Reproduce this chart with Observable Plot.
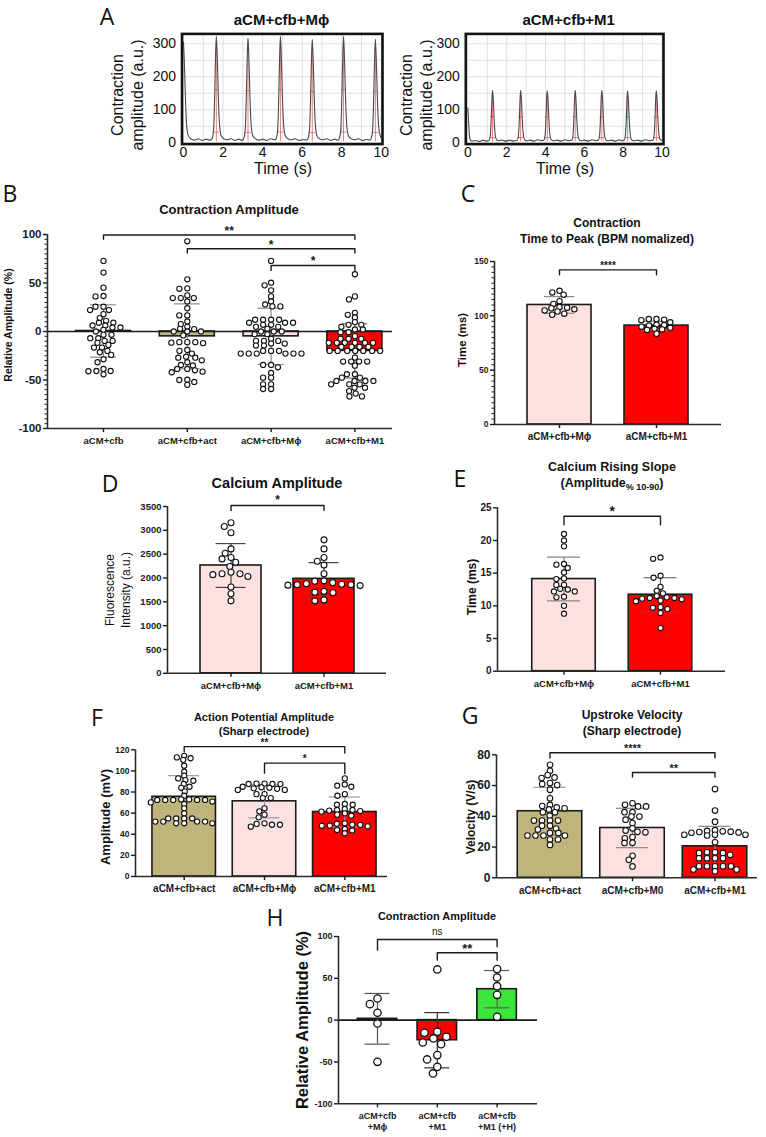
<!DOCTYPE html>
<html>
<head>
<meta charset="utf-8">
<script src="https://cdn.jsdelivr.net/npm/d3@7"></script>
<script src="https://cdn.jsdelivr.net/npm/@observablehq/plot@0.6"></script>
<style>
  html, body { margin: 0; padding: 0; background: #fff; }
  #fig { position: relative; width: 766px; height: 1137px; overflow: hidden; background: #fff;
         font-family: "Liberation Sans", Arial, Helvetica, sans-serif; color: #111; }
  #fig sub { font-size: 0.72em; vertical-align: -0.25em; }
</style>
</head>
<body>
<div id="fig"></div>
<script>
// ---------- Panel A: contraction traces (time in s, amplitude in a.u.) ----------
const traceMphiT = [0, 0.04, 0.09, 0.15, 0.23, 0.35, 0.55, 0.75, 0.95, 1.15, 1.32,
  1.44, 1.52, 1.58, 1.62, 1.66, 1.71, 1.76, 1.82, 1.90, 2.02, 2.2, 2.4, 2.6, 2.8, 2.95,
  3.04, 3.12, 3.18, 3.22, 3.26, 3.31, 3.36, 3.42, 3.50, 3.62, 3.8, 4.0, 4.2, 4.4, 4.6,
  4.68, 4.76, 4.82, 4.86, 4.90, 4.95, 5.00, 5.06, 5.14, 5.26, 5.45, 5.65, 5.85, 6.05, 6.22,
  6.29, 6.37, 6.43, 6.47, 6.51, 6.56, 6.61, 6.67, 6.75, 6.87, 7.05, 7.25, 7.45, 7.65, 7.82,
  7.87, 7.95, 8.01, 8.05, 8.09, 8.14, 8.19, 8.25, 8.33, 8.45, 8.65, 8.85, 9.05, 9.25, 9.42,
  9.48, 9.56, 9.62, 9.66, 9.70, 9.75, 9.80, 9.86, 9.94, 10.0];
const traceMphiA = [305, 250, 150, 60, 24, 13, 8, 12, 7, 11, 8,
  12, 40, 150, 262, 322, 252, 142, 56, 22, 13, 9, 12, 7, 11, 8,
  12, 40, 148, 256, 316, 246, 138, 54, 22, 13, 8, 11, 7, 12, 9,
  12, 40, 150, 262, 322, 252, 142, 56, 22, 13, 9, 12, 7, 10, 8,
  12, 40, 146, 254, 312, 244, 136, 52, 21, 12, 9, 12, 7, 11, 8,
  12, 40, 150, 262, 322, 252, 142, 56, 22, 13, 9, 12, 7, 10, 8,
  12, 40, 146, 254, 313, 245, 137, 53, 22, 15];
const peakMphiT = [1.66, 3.26, 4.90, 6.51, 8.09, 9.70];
const peakMphiA = [322, 316, 322, 312, 322, 313];

const traceM1T = [0, 0.03, 0.07, 0.12, 0.2, 0.4, 0.6, 0.8, 0.95,
  1.09, 1.16, 1.21, 1.24, 1.27, 1.31, 1.35, 1.40, 1.47, 1.57, 1.75, 1.95, 2.15, 2.35, 2.50,
  2.54, 2.61, 2.66, 2.69, 2.72, 2.76, 2.80, 2.85, 2.92, 3.02, 3.2, 3.4, 3.6, 3.8, 3.88,
  3.91, 3.98, 4.03, 4.06, 4.09, 4.13, 4.17, 4.22, 4.29, 4.39, 4.6, 4.8, 5.0, 5.2, 5.33,
  5.35, 5.42, 5.47, 5.50, 5.53, 5.57, 5.61, 5.66, 5.73, 5.83, 6.0, 6.2, 6.4, 6.6, 6.70,
  6.72, 6.79, 6.84, 6.87, 6.90, 6.94, 6.98, 7.03, 7.10, 7.20, 7.4, 7.6, 7.8, 7.95, 8.03,
  8.05, 8.12, 8.17, 8.20, 8.23, 8.27, 8.31, 8.36, 8.43, 8.53, 8.75, 8.95, 9.15, 9.35, 9.50,
  9.53, 9.60, 9.65, 9.68, 9.71, 9.75, 9.79, 9.84, 9.91, 10.0];
const traceM1A = [105, 70, 30, 10, 5, 7, 4, 8, 5,
  7, 25, 85, 135, 158, 130, 75, 28, 10, 6, 8, 5, 8, 5, 7,
  7, 25, 85, 135, 158, 130, 75, 28, 10, 6, 8, 5, 9, 6, 8,
  7, 25, 85, 135, 157, 130, 75, 28, 10, 6, 8, 5, 9, 6, 8,
  7, 25, 85, 135, 158, 130, 75, 28, 10, 6, 8, 5, 9, 6, 8,
  7, 25, 85, 135, 158, 130, 75, 28, 10, 6, 8, 5, 9, 6, 8,
  7, 25, 85, 135, 157, 130, 75, 28, 10, 6, 8, 5, 9, 6, 8,
  7, 25, 85, 135, 157, 130, 75, 28, 10, 7];
const peakM1T = [1.27, 2.72, 4.09, 5.53, 6.90, 8.23, 9.71];
const peakM1A = [158, 158, 157, 158, 158, 157, 157];

const traceTicksX = [0, 2, 4, 6, 8, 10];
const traceTicksY = [0, 100, 200, 300];

// ---------- Panel B: contraction amplitude (%) ----------
const catsB = ["aCM+cfb", "aCM+cfb+act", "aCM+cfb+Mϕ", "aCM+cfb+M1"];
const cfbB = [72.8, 60.7, 45.2, 36.6, 36.2, 25.5, 25.5, 22.1, 22.1, 17.9, 13.8, 11, 9, 9, 6.2, 6.2, 4.1, 4.1, 1.7, 0,
  -3.4, -3.4, -6.9, -6.9, -9.7, -9.7, -11.7, -13.8, -16.6, -16.6, -20, -21.4, -24.1, -28.6, -31.7, -38.6, -40.7, -40.7, -41, -44.1];
const actB = [93, 53.8, 44.5, 44, 37.2, 34.5, 34.5, 34.5, 31, 24, 16.6, 16.6, 10.3, 7.6, 4.8, 2.8, 2.4, 0, 0, 0,
  -4, -11, -11, -11, -11.5, -12, -19, -20, -22.8, -26, -27, -27, -29.7, -31.7, -34.5, -35, -38.6, -38.6, -40, -41.4,
  -42, -49.7, -50, -52, -55];
const mphiB = [72.8, 50.3, 47.6, 42.4, 36.2, 31, 27.9, 25.9, 25.9, 12.1, 12.1, 12.1, 12.1, 9, 9, 9, 6.9, 6.9, 4.8, 4.8,
  2.8, 0, 0, 0, -2.8, -2.8, -7.6, -9.7, -9.7, -9.7, -12.4, -12.4, -14.5, -14.5, -20, -20, -20, -22.8, -22.8, -22.8,
  -22.8, -22.8, -22.8, -34.5, -34.5, -36.9, -42.8, -47.6, -47.6, -54.5, -54.5, -59.3, -59.3];
const m1B = [59, 36.2, 33.1, 19.3, 17.2, 14.5, 9.7, 6.9, 6.9, 4.8, 2.1, 2.1, -0.7, -0.7, -4.8, -7.6, -7.6, -7.6,
  -11.7, -11.7, -11.7, -11.7, -11.7, -11.7, -15.9, -15.9, -15.9, -15.9, -20, -20, -20, -20, -20, -20, -20,
  -26.9, -31, -31, -31, -31, -35.2, -44, -44, -47.6, -47.6, -51, -51, -51, -51, -54.5, -54.5, -54.5, -58, -58,
  -61.4, -64, -66.9, -66.9];
const meanB = [0.5, -5, -5, -20];
const sdB = [27, 33.5, 29, 28];
const sigB = [
  {a: 0, b: 3, y: 99.5, dA: 4.5, dB: 4.5, t: "**"},
  {a: 1, b: 3, y: 85.3, dA: 4.5, dB: 4.5, t: "*"},
  {a: 2, b: 3, y: 68, dA: 5, dB: 5, t: "*"}
];

// ---------- Panel C: time to peak (ms) ----------
const catsC = ["aCM+cfb+Mϕ", "aCM+cfb+M1"];
const mphiC = [123, 121.5, 119.5, 113.5, 111, 108, 107.5, 107, 106, 105, 104, 102, 101];
const m1C = [97, 97, 96.5, 96, 94, 92, 91.5, 91, 90, 89, 88, 87.5, 87, 83.5];
const meanC = [110, 91];
const sdC = [7.7, 4];
const sigC = [{a: 0, b: 1, y: 142.3, dA: 4.6, dB: 4.6, t: "****"}];

// ---------- Panel D: calcium amplitude (a.u.) ----------
const catsD = ["aCM+cfb+Mϕ", "aCM+cfb+M1"];
const mphiD = [3160, 3080, 2950, 2610, 2520, 2430, 2400, 2330, 2240, 2120, 2090, 2090, 2070, 2030, 1810, 1670, 1520];
const m1D = [2800, 2610, 2430, 2350, 2270, 2090, 1940, 1930, 1900, 1880, 1870, 1860, 1860, 1850, 1840, 1720, 1700, 1690, 1540, 1520];
const meanD = [2262, 1982];
const sdD = [460, 340];
const sigD = [{a: 0, b: 1, y: 3520, dA: 105, dB: 105, t: "*"}];

// ---------- Panel E: calcium rising slope (ms) ----------
const catsE = ["aCM+cfb+Mϕ", "aCM+cfb+M1"];
const mphiE = [21, 20, 19.1, 16.4, 16.3, 15.8, 15.1, 14.2, 14.1, 13.2, 13.2, 12.6, 12.5, 12.2, 12.2, 11.4, 11.3, 10, 8.8];
const m1E = [17.4, 17.2, 14.6, 14.3, 12.9, 12.3, 11.9, 11.5, 11.3, 11.2, 11.2, 11.1, 11, 10.8, 10.7, 9.8, 9.7, 9.5, 8.9, 6.6];
const meanE = [14.1, 11.7];
const sdE = [3.35, 2.6];
const sigE = [{a: 0, b: 1, y: 23.7, dA: 1.3, dB: 1.3, t: "*"}];

// ---------- Panel F: action potential amplitude (mV) ----------
const catsF = ["aCM+cfb+act", "aCM+cfb+Mϕ", "aCM+cfb+M1"];
const actF = [114.3, 112.8, 112, 110.5, 104.9, 99.2, 95.4, 92.9, 91.3, 90.7, 87.6, 85, 84, 80.6, 76.5, 73, 73, 72.5,
  72.5, 72.5, 72.5, 72.5, 71, 70.2, 68.7, 64.6, 59.8, 55, 55, 55, 55, 52, 52, 52, 52, 50.4, 50.4, 50.4];
const mphiF = [88, 88, 87.6, 87.6, 87.5, 85, 84.5, 84, 83.5, 83, 82, 82, 78, 78, 74.3, 74.3, 64.6, 61.7, 58.6, 56,
  50.4, 49.8, 49, 49, 47.2];
const m1F = [92.9, 87.2, 86, 85, 78, 76.5, 68.7, 68, 68, 64, 63, 63, 62.4, 62, 61.4, 59.8, 58.6, 57.6, 50.4, 50,
  49.1, 48.9, 48.2, 48, 47.5, 45, 44, 43.5, 41];
const meanF = [75.5, 71.2, 61.1];
const sdF = [20, 15.6, 14.2];
const sigF = [
  {a: 0, b: 2, y: 123, dA: 5, dB: 6, t: "**"},
  {a: 1, b: 2, y: 107.4, dA: 9.5, dB: 10, t: "*"}
];

// ---------- Panel G: upstroke velocity (V/s) ----------
const catsG = ["aCM+cfb+act", "aCM+cfb+M0", "aCM+cfb+M1"];
const actG = [73.5, 69.6, 66.8, 65.3, 64.9, 61.6, 61, 60.3, 57.3, 51.7, 47.4, 46.7, 45.8, 45.2, 44.5, 42.6, 42.6,
  40.4, 37.2, 37.2, 37.2, 37.2, 33.9, 33.9, 32, 31.4, 29.2, 29.2, 27.5, 27.5, 27.5, 27.5, 24.9, 24.9, 21.4];
const m0G = [48.5, 47.5, 46.4, 46.4, 42.7, 42.7, 39.8, 39.8, 37.8, 35.6, 32.2, 30.7, 29.9, 29.6, 26.5, 25.7, 22.8,
  22.7, 14.3, 11.7, 7.4];
const m1G = [57.7, 43.7, 36.5, 31, 30.5, 30.2, 30, 29.8, 29.5, 29.3, 28, 28, 28, 27.5, 23.1, 16.6, 16.6, 16.2, 16.2,
  15, 12.7, 12.7, 12.7, 12.7, 7.5, 7.5, 7.5, 7.5, 7.5, 5.4, 5.4, 4.3];
const meanG = [43.3, 32.4, 20.5];
const sdG = [15.6, 12.8, 13];
const sigG = [
  {a: 0, b: 2, y: 81.3, dA: 3.3, dB: 3.3, t: "****"},
  {a: 1, b: 2, y: 68.5, dA: 3, dB: 3, t: "**"}
];

// ---------- Panel H: contraction amplitude with (+H) ----------
const catsH = ["aCM+cfb\n+Mϕ", "aCM+cfb\n+M1", "aCM+cfb\n+M1 (+H)"];
const mphiH = [25.9, 19.1, 8.8, -4, -49.8];
const m1H = [60.6, -13.9, -15.1, -19.9, -21.9, -26.7, -28.7, -41.8, -47, -55.8, -63.7];
const hH = [61, 51, 40.6, 30.3, 4];
const meanH = [1.6, -24, 37];
const sdH = [30.3, 33, 22.3];
const sigH = [
  {a: 0, b: 2, y: 96.4, dA: 12.7, dB: 8.8, t: "ns"},
  {a: 1, b: 2, y: 80.5, dA: 8.8, dB: 8.8, t: "**"}
];

// ---------- colours ----------
const WHITE = "#ffffff", OLIVE = "#bfb47b", PINK = "#fde0e0", RED = "#ff0000", GREEN = "#3be63b";

// ---------- helpers ----------
const FONT = "'Liberation Sans', Arial, Helvetica, sans-serif";
const fig = document.getElementById("fig");

function addSvg(svg, left, top) {
  svg.style.position = "absolute";
  svg.style.left = left + "px";
  svg.style.top = top + "px";
  fig.appendChild(svg);
}

function label(html, x, y, o = {}) {
  const d = document.createElement("div");
  d.innerHTML = html;
  Object.assign(d.style, {
    position: "absolute", left: x + "px", top: y + "px",
    transform: "translate(-50%, -50%)" + (o.rotate ? " rotate(-90deg)" : ""),
    whiteSpace: "nowrap", textAlign: "center",
    lineHeight: (o.lh || Math.round(o.size * 1.2)) + "px",
    fontSize: o.size + "px", fontWeight: o.bold ? "bold" : "normal",
    fontFamily: o.family || FONT, color: "#111"
  });
  fig.appendChild(d);
}

// Scatter layout: each dot goes to the horizontal offset (px) nearest the
// column centre that keeps it clear of the dots already placed.  Collisions use
// an ellipse S wide and V tall, so nearby values share rows as in a column scatter.
function swarm(vals, pxPerUnit, S, V) {
  const k = S / V;
  const placed = [], out = new Array(vals.length);
  const order = d3.range(vals.length).sort((a, b) => vals[b] - vals[a]);
  for (const i of order) {
    const y = vals[i] * pxPerUnit * k;
    const blocks = [];
    for (const p of placed) {
      const dy = Math.abs(p.y - y);
      if (dy < S) { const w = Math.sqrt(S * S - dy * dy); blocks.push([p.x - w, p.x + w]); }
    }
    const cands = [0];
    for (const [a, b] of blocks) cands.push(a, b);
    cands.sort((a, b) => Math.abs(a) - Math.abs(b) || a - b);
    let x = 0;
    for (const c of cands) {
      if (blocks.every(([a, b]) => c <= a + 1e-6 || c >= b - 1e-6)) { x = c; break; }
    }
    placed.push({x, y});
    out[i] = x;
  }
  return out;
}

function barPanel(p) {
  const [left, top, width, height] = p.box;
  const [x0, x1] = p.xPx, [yTop, yBot] = p.yPx, [c0, step] = p.centers;
  const [ymin, ymax] = p.yDomain;
  const xDom = [(x0 - c0) / step, (x1 - c0) / step];
  const pxPerUnit = (yBot - yTop) / (ymax - ymin);
  const hw = p.barW / 2 / step, cw = p.capPx / step;
  const bars = p.cats.map((c, i) => ({i, mean: p.means[i], sd: p.sds[i], fill: p.fills[i], err: p.errColors[i]}));
  const caps = bars.flatMap(b => [{i: b.i, y: b.mean + b.sd, err: b.err}, {i: b.i, y: b.mean - b.sd, err: b.err}]);
  const dots = p.groups.flatMap((vals, i) => {
    const off = swarm(vals, pxPerUnit, p.S, p.V);
    return vals.map((v, k) => ({x: i + off[k] / step, y: v}));
  });
  const brPts = p.brackets.flatMap((b, k) => [
    {k, x: b.a, y: b.y - b.dA}, {k, x: b.a, y: b.y}, {k, x: b.b, y: b.y}, {k, x: b.b, y: b.y - b.dB}
  ]);
  const mid = d => (d.a + d.b) / 2;
  const marks = [
    Plot.rectY(bars, {x1: d => d.i - hw, x2: d => d.i + hw, y1: () => 0, y2: "mean", fill: "fill", stroke: "#1a1a1a", strokeWidth: 1.6})
  ];
  if (p.zero) marks.push(Plot.ruleY([0], {stroke: "#1a1a1a", strokeWidth: 1.7}));
  marks.push(
    Plot.ruleX(bars, {x: "i", y1: d => d.mean - d.sd, y2: d => d.mean + d.sd, stroke: "err", strokeWidth: 1.2}),
    Plot.ruleY(caps, {y: "y", x1: d => d.i - cw, x2: d => d.i + cw, stroke: "err", strokeWidth: 1.2}),
    Plot.dot(dots, {x: "x", y: "y", r: p.r, fill: "white", stroke: "#111", strokeWidth: p.sw || 1.1}),
    Plot.ruleX([xDom[0]], {stroke: "#2a2a2a", strokeWidth: 1.6}),
    Plot.ruleY([ymin], {stroke: "#2a2a2a", strokeWidth: 1.6}),
    Plot.axisY({ticks: p.yTicks, tickSize: 4, tickPadding: 2, fontSize: p.yFont, tickFormat: d => String(d), strokeWidth: 1.4, label: null}),
    Plot.axisX({ticks: d3.range(p.cats.length), tickFormat: i => p.cats[i], tickSize: 4, tickPadding: 3, fontSize: p.xFont, lineHeight: 1.25, strokeWidth: 1.4, label: null}),
    Plot.line(brPts, {x: "x", y: "y", z: "k", stroke: "#1a1a1a", strokeWidth: 1.4}),
    Plot.text(p.brackets.filter(b => b.t !== "ns"), {x: mid, y: "y", text: "t", dy: -p.starDy, fontSize: p.starFont, fontWeight: "bold"}),
    Plot.text(p.brackets.filter(b => b.t === "ns"), {x: mid, y: "y", text: "t", dy: -8, fontSize: 10, fontWeight: "normal"})
  );
  if (p.minor) marks.push(Plot.axisY({ticks: p.minor, tickSize: 2.5, tickFormat: () => "", strokeWidth: 1, label: null}));
  const svg = Plot.plot({
    width, height,
    marginLeft: x0 - left, marginRight: left + width - x1,
    marginTop: yTop - top, marginBottom: top + height - yBot,
    x: {domain: xDom}, y: {domain: [ymin, ymax]},
    color: {type: "identity"},
    style: {fontFamily: FONT, fontWeight: "bold", fontSize: "10px", color: "#1a1a1a", background: "transparent", overflow: "visible"},
    marks
  });
  addSvg(svg, left, top);
}

function tracePanel(p) {
  const [left, top, width, height] = p.box;
  const [x0, x1] = p.xPx, [yTop, yBot] = p.yPx;
  const trace = p.t.map((t, i) => ({t, a: p.a[i]}));
  const peaks = p.peakT.map((t, i) => ({t, a: p.peakA[i]}));
  const svg = Plot.plot({
    width, height,
    marginLeft: x0 - left, marginRight: left + width - x1,
    marginTop: yTop - top, marginBottom: top + height - yBot,
    x: {domain: p.xDom}, y: {domain: p.yDom},
    style: {fontFamily: FONT, fontSize: "14px", color: "#111", background: "transparent", overflow: "visible"},
    marks: [
      Plot.gridX({ticks: d3.range(0, 11, 1), stroke: "#d0d0d0", strokeOpacity: 0.8, strokeWidth: 0.8}),
      Plot.gridY({ticks: d3.range(0, 331, 50), stroke: "#d0d0d0", strokeOpacity: 0.8, strokeWidth: 0.8}),
      Plot.ruleX(peaks, {x: "t", y1: () => 3, y2: "a", stroke: "#e04848", strokeOpacity: 0.7, strokeWidth: 1}),
      Plot.ruleY(peaks, {y: d => d.a / 2, x1: d => d.t - 0.1, x2: d => d.t + 0.12, stroke: "#e04848", strokeOpacity: 0.7}),
      Plot.ruleY(peaks, {y: d => d.a / 10, x1: d => d.t - 0.14, x2: d => d.t + 0.16, stroke: "#e04848", strokeOpacity: 0.7}),
      Plot.line(trace, {x: "t", y: "a", stroke: "#4a4a4a", strokeWidth: 1.1, curve: "monotone-x"}),
      Plot.frame({stroke: "#111", strokeWidth: 2.6}),
      Plot.axisY({ticks: traceTicksY, tickSize: 0, tickPadding: 6, fontSize: 14, tickFormat: d => String(d), label: null}),
      Plot.axisX({ticks: traceTicksX, tickSize: 0, tickPadding: 3, fontSize: 14, tickFormat: d => String(d), label: null})
    ]
  });
  addSvg(svg, left, top);
}

// ---------- A ----------
tracePanel({box: [145, 28, 245, 135], xPx: [181.5, 382], yPx: [33.4, 143.6], xDom: [-0.076, 10.06], yDom: [-4, 330],
  t: traceMphiT, a: traceMphiA, peakT: peakMphiT, peakA: peakMphiA});
tracePanel({box: [430, 28, 245, 135], xPx: [465.3, 663], yPx: [33.4, 143.6], xDom: [-0.108, 10.08], yDom: [-4, 330],
  t: traceM1T, a: traceM1A, peakT: peakM1T, peakA: peakM1A});

// ---------- B ----------
barPanel({box: [0, 222, 400, 232], xPx: [47, 392], yPx: [234, 428], yDomain: [-100, 100], centers: [103, 83.8],
  barW: 55, capPx: 13, r: 2.6, S: 8, V: 4.5, cats: catsB, groups: [cfbB, actB, mphiB, m1B], means: meanB, sds: sdB,
  fills: [WHITE, OLIVE, PINK, RED], errColors: ["#8c8c8c", "#8c8c8c", "#8c8c8c", "#777777"],
  yTicks: [-100, -50, 0, 50, 100], minor: d3.range(-100, 101, 5).filter(v => v % 50 !== 0),
  yFont: 11.5, xFont: 9.5, zero: true, brackets: sigB, starFont: 12, starDy: 4});

// ---------- C ----------
barPanel({box: [400, 248, 366, 200], xPx: [494, 721], yPx: [261, 424], yDomain: [0, 150], centers: [559, 97],
  barW: 64, capPx: 15, r: 2.7, S: 7.7, V: 4.5, cats: catsC, groups: [mphiC, m1C], means: meanC, sds: sdC,
  fills: [PINK, RED], errColors: ["#888888", "#888888"],
  yTicks: [0, 50, 100, 150], minor: d3.range(0, 151, 5).filter(v => v % 50 !== 0),
  yFont: 8.5, xFont: 10, brackets: sigC, starFont: 10, starDy: 4});

// ---------- D ----------
barPanel({box: [100, 495, 300, 205], xPx: [167, 386], yPx: [506, 672.8], yDomain: [0, 3500], centers: [230.5, 93],
  barW: 61, capPx: 15, r: 3, S: 9.3, V: 5.5, cats: catsD, groups: [mphiD, m1D], means: meanD, sds: sdD,
  fills: [PINK, RED], errColors: ["#444444", "#444444"],
  yTicks: d3.range(0, 3501, 500), yFont: 9.5, xFont: 9.5, brackets: sigD, starFont: 12, starDy: 5});

// ---------- E ----------
barPanel({box: [440, 495, 326, 205], xPx: [497, 725], yPx: [507.3, 670.7], yDomain: [0, 25], centers: [563.5, 96.5],
  barW: 63.5, capPx: 16.5, r: 2.6, S: 7.7, V: 4.5, cats: catsE, groups: [mphiE, m1E], means: meanE, sds: sdE,
  fills: [PINK, RED], errColors: ["#888888", "#555555"],
  yTicks: [0, 5, 10, 15, 20, 25], yFont: 10, xFont: 9.5, brackets: sigE, starFont: 14, starDy: 5});

// ---------- F ----------
barPanel({box: [60, 738, 340, 170], xPx: [135, 387], yPx: [749.3, 876], yDomain: [0, 120], centers: [183.7, 80.3],
  barW: 63.5, capPx: 15.5, r: 2.6, S: 8, V: 4, cats: catsF, groups: [actF, mphiF, m1F], means: meanF, sds: sdF,
  fills: [OLIVE, PINK, RED], errColors: ["#999999", "#999999", "#999999"],
  yTicks: d3.range(0, 121, 20), yFont: 8.5, xFont: 10, brackets: sigF, starFont: 10, starDy: 4});

// ---------- G ----------
barPanel({box: [440, 738, 326, 170], xPx: [496, 757], yPx: [754.3, 877.3], yDomain: [0, 80], centers: [549.5, 82.5],
  barW: 64.5, capPx: 16, r: 2.8, S: 8, V: 4.5, cats: catsG, groups: [actG, m0G, m1G], means: meanG, sds: sdG,
  fills: [OLIVE, PINK, RED], errColors: ["#888888", "#888888", "#888888"],
  yTicks: [0, 20, 40, 60, 80], yFont: 12, xFont: 10, brackets: sigG, starFont: 11, starDy: 4});

// ---------- H ----------
barPanel({box: [280, 925, 280, 212], xPx: [338, 537], yPx: [936, 1103.3], yDomain: [-100, 100], centers: [377, 59.8],
  barW: 39.5, capPx: 12.5, r: 3.7, S: 13, V: 7, sw: 1.3, cats: catsH, groups: [mphiH, m1H, hH], means: meanH, sds: sdH,
  fills: [WHITE, RED, GREEN], errColors: ["#555555", "#333333", "#556655"],
  yTicks: [-100, -50, 0, 50, 100], yFont: 9, xFont: 9, zero: true, brackets: sigH, starFont: 13, starDy: 4});

// ---------- panel letters ----------
const LETTER = {size: 23, family: "'Open Sans', 'DejaVu Sans', sans-serif", lh: 24};
label("A", 107, 16, LETTER);
label("B", 10, 193, LETTER);
label("C", 468, 193, LETTER);
label("D", 110, 483, LETTER);
label("E", 460, 478, LETTER);
label("F", 97, 717, LETTER);
label("G", 470, 715, LETTER);
label("H", 275, 917, LETTER);

// ---------- titles ----------
label("aCM+cfb+Mϕ", 281.5, 20, {size: 15, bold: true});
label("aCM+cfb+M1", 568.7, 20, {size: 15, bold: true});
label("Contraction Amplitude", 229, 210, {size: 13, bold: true});
label("Contraction<br>Time to Peak (BPM nomalized)", 607, 231, {size: 12, bold: true, lh: 16});
label("Calcium Amplitude", 277, 483, {size: 14.5, bold: true});
label("Calcium Rising Slope<br>(Amplitude<sub>% 10-90</sub>)", 612, 477, {size: 12.5, bold: true, lh: 16});
label("Action Potential Amplitude<br>(Sharp electrode)", 264, 724, {size: 11, bold: true, lh: 14});
label("Upstroke Velocity<br>(Sharp electrode)", 632, 723, {size: 12, bold: true, lh: 16});
label("Contraction Amplitude", 437, 916, {size: 11, bold: true});

// ---------- axis titles ----------
label("Contraction<br>amplitude (a.u.)", 128, 95, {size: 16, rotate: true, lh: 20});
label("Contraction<br>amplitude (a.u.)", 417, 95, {size: 16, rotate: true, lh: 20});
label("Time (s)", 283, 168, {size: 16});
label("Time (s)", 565, 168, {size: 16});
label("Relative Amplitude (%)", 8, 325, {size: 10.5, bold: true, rotate: true});
label("Time (ms)", 462, 340, {size: 11.5, bold: true, rotate: true});
label("Fluorescence<br>Intensity (a.u.)", 118, 590, {size: 12, rotate: true, lh: 16});
label("Time (ms)", 472, 587, {size: 12, bold: true, rotate: true});
label("Amplitude (mV)", 106, 817, {size: 13, bold: true, rotate: true});
label("Velocity (V/s)", 471, 817, {size: 12, bold: true, rotate: true});
label("Relative Amplitude (%)", 302, 1020, {size: 16.5, bold: true, rotate: true});
</script>
</body>
</html>
